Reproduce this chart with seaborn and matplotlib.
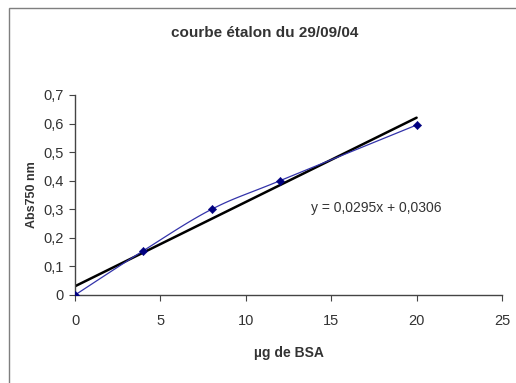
import numpy as np
import pandas as pd
import matplotlib
matplotlib.use("Agg")
import matplotlib.pyplot as plt
import seaborn as sns
from matplotlib.patches import Rectangle

# calibration data
bsa_ug = [0, 4, 8, 12, 20]
absorbance = [0.0, 0.155, 0.30, 0.40, 0.595]
slope = 0.0295
intercept = 0.0306
x_ticks = [0, 5, 10, 15, 20, 25]
y_ticks = [0, 0.1, 0.2, 0.3, 0.4, 0.5, 0.6, 0.7]

df = pd.DataFrame({"bsa": bsa_ug, "abs": absorbance})


def catmull_rom(x, y, n=20):
    """smoothed line like the spreadsheet 'smoothed line' option"""
    px = np.r_[x[0], x, x[-1]]
    py = np.r_[y[0], y, y[-1]]
    xs, ys = [], []
    t = np.linspace(0, 1, n)
    for i in range(1, len(px) - 2):
        p0, p1, p2, p3 = [np.array([px[j], py[j]]) for j in range(i - 1, i + 3)]
        for tt in t:
            pt = 0.5 * ((2 * p1) + (-p0 + p2) * tt + (2 * p0 - 5 * p1 + 4 * p2 - p3) * tt ** 2
                        + (-p0 + 3 * p1 - 3 * p2 + p3) * tt ** 3)
            xs.append(pt[0])
            ys.append(pt[1])
    return xs, ys


sns.set_style("white")
plt.rcParams["font.family"] = ["Liberation Sans Narrow", "Liberation Sans", "DejaVu Sans"]

fig = plt.figure(figsize=(5.16, 3.83), dpi=100)
ax = fig.add_axes([75 / 516, 1 - 295 / 383, 427 / 516, 200 / 383])

# chart frame (cropped at right and bottom)
fig.patches.append(Rectangle((9 / 516, -0.1), 1.2, 1 - 8 / 383 + 0.1, transform=fig.transFigure,
                             fill=False, edgecolor="#7f7f7f", linewidth=1.0))

sx, sy = catmull_rom(np.array(bsa_ug, float), np.array(absorbance, float))
ax.plot(sx, sy, color="#3333aa", linewidth=0.9, zorder=2)
sns.scatterplot(data=df, x="bsa", y="abs", marker="D", color="#000080", s=18,
                edgecolor="#000080", ax=ax, zorder=3)

fit_x = np.array([bsa_ug[0], bsa_ug[-1]])
ax.plot(fit_x, slope * fit_x + intercept, color="black", linewidth=1.8, zorder=1)

ax.text(13.8, 0.305, "y = 0,0295x + 0,0306", fontsize=10, color="#333333", va="center")

ax.set_xlim(0, 25)
ax.set_ylim(0, 0.7)
ax.set_xticks(x_ticks)
ax.set_yticks(y_ticks)
ax.set_xticklabels([str(v) for v in x_ticks])
ax.set_yticklabels(["0" if v == 0 else f"{v:.1f}".replace(".", ",") for v in y_ticks])
ax.tick_params(axis="both", direction="out", length=4, width=0.8, colors="#444444",
               labelsize=10.5, labelcolor="#333333", bottom=True, left=True)
ax.tick_params(axis="x", pad=10)
ax.tick_params(axis="y", pad=4)
for s in ["top", "right"]:
    ax.spines[s].set_visible(False)
for s in ["left", "bottom"]:
    ax.spines[s].set_color("#444444")
    ax.spines[s].set_linewidth(1.0)

ax.set_xlabel("µg de BSA", fontsize=10, fontweight="bold", color="#333333", labelpad=13)
ax.set_ylabel("Abs750 nm", fontsize=9, fontweight="bold", color="#333333", labelpad=4)
fig.text(265 / 516, 1 - 33 / 383, "courbe étalon du 29/09/04", fontsize=11, fontweight="bold",
         color="#333333", ha="center", va="center")

fig.savefig("out.png", dpi=100)
